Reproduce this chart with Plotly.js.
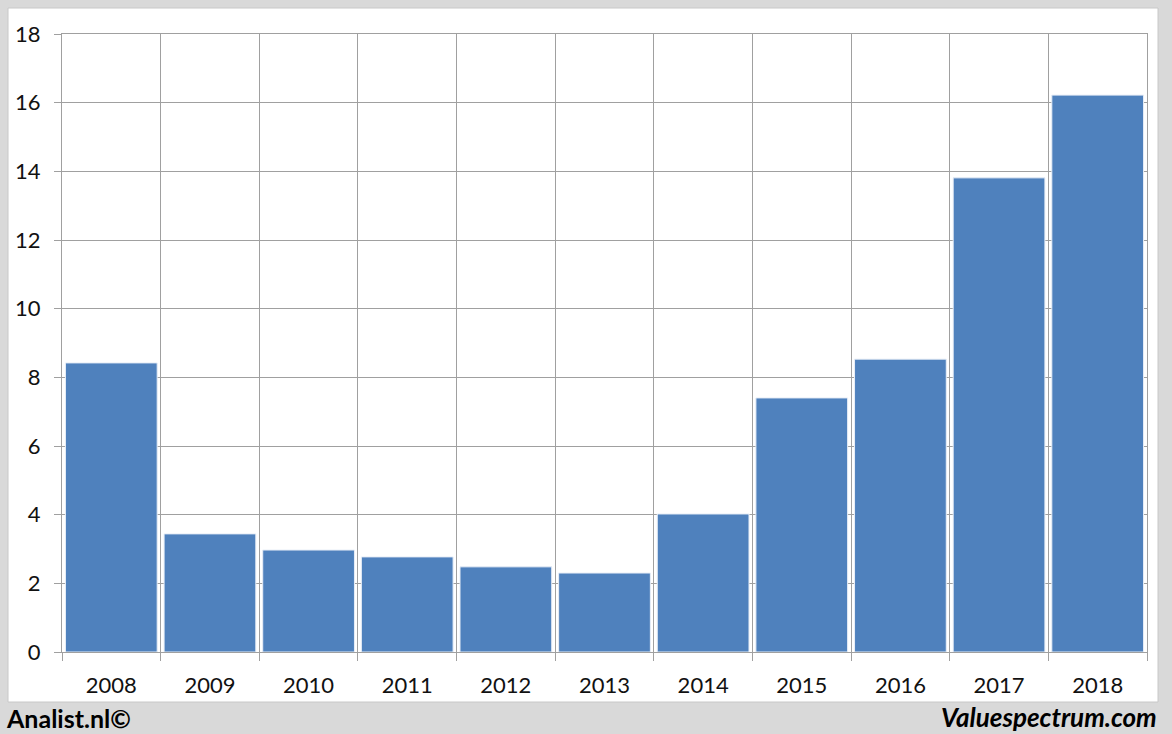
<!DOCTYPE html>
<html>
<head>
<meta charset="utf-8">
<script src="https://cdn.plot.ly/plotly-3.0.1.min.js"></script>
<style>html,body{margin:0;padding:0;background:#d9d9d9;}#chart{width:1172px;height:734px;}</style>
</head>
<body>
<div id="chart"></div>
<script>
var years = [2008, 2009, 2010, 2011, 2012, 2013, 2014, 2015, 2016, 2017, 2018];
var values = [8.42, 3.44, 2.97, 2.77, 2.48, 2.30, 4.02, 7.40, 8.53, 13.81, 16.22];
var yTicks = [0, 2, 4, 6, 8, 10, 12, 14, 16, 18];
var boundaries = years.map(function(y){return y - 0.5;}).concat([years[years.length-1] + 0.5]);

var W = 1172, H = 734, L = 62, R = 25, T = 34, B = 82;
var pw = W - L - R, ph = H - T - B;
function px2x(p){ return (p - L) / pw; }
function py2y(p){ return (H - B - p) / ph; }

var trace = {
  type: 'bar',
  x: years,
  y: values,
  width: 0.93,
  marker: {color: '#4f81bd', line: {color: '#e8eef7', width: 1}},
  hoverinfo: 'x+y'
};

var fontFam = 'Lato, "Open Sans", sans-serif';
var layout = {
  width: W, height: H,
  margin: {l: L, r: R, t: T, b: B, pad: 0},
  paper_bgcolor: '#d9d9d9',
  plot_bgcolor: 'rgba(0,0,0,0)',
  showlegend: false,
  xaxis: {
    range: [years[0] - 0.5, years[years.length-1] + 0.5],
    tickmode: 'array', tickvals: years, ticktext: years.map(String),
    ticks: '', showgrid: false, zeroline: false,
    showline: true, linecolor: '#a0a0a0', linewidth: 1, mirror: true,
    tickfont: {family: fontFam, size: 22, color: '#111'},
    ticklabelstandoff: 14,
    minor: {tickmode: 'array', tickvals: boundaries, ticks: 'outside', ticklen: 8,
            tickcolor: '#a0a0a0', showgrid: true, gridcolor: '#a0a0a0', gridwidth: 1}
  },
  yaxis: {
    range: [0, 18], tickmode: 'array', tickvals: yTicks,
    ticks: 'outside', ticklen: 7, tickcolor: '#a0a0a0',
    showgrid: true, gridcolor: '#a0a0a0', gridwidth: 1, zeroline: false,
    showline: true, linecolor: '#a0a0a0', linewidth: 1, mirror: true,
    tickfont: {family: fontFam, size: 22, color: '#111'},
    ticklabelstandoff: 9
  },
  shapes: [{
    type: 'rect', xref: 'paper', yref: 'paper', layer: 'below',
    x0: px2x(8), x1: px2x(1158), y0: py2y(702), y1: py2y(8),
    fillcolor: '#ffffff', line: {color: '#c8c8c8', width: 1}
  }],
  annotations: [
    {text: '<b>Analist.nl©</b>', xref: 'paper', yref: 'paper', x: px2x(4), y: py2y(718),
     xanchor: 'left', yanchor: 'middle', showarrow: false,
     font: {family: fontFam, size: 25, color: '#000'}},
    {text: '<b><i>Valuespectrum.com</i></b>', xref: 'paper', yref: 'paper', x: px2x(1159), y: py2y(717),
     xanchor: 'right', yanchor: 'middle', showarrow: false,
     font: {family: fontFam, size: 26, color: '#000'}}
  ]
};

Plotly.newPlot('chart', [trace], layout, {displayModeBar: false, staticPlot: true});
</script>
</body>
</html>
